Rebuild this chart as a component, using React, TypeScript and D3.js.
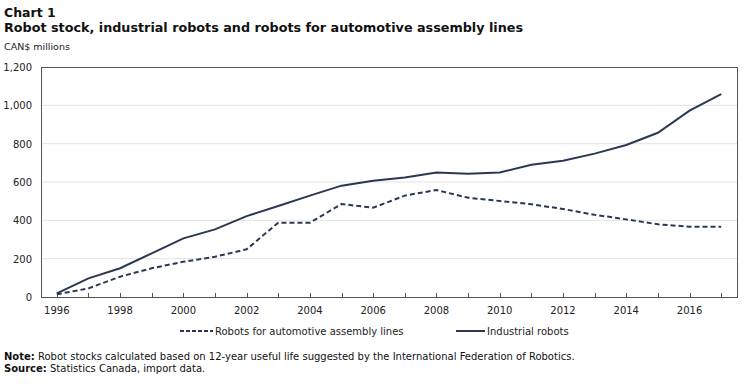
import React, { useEffect, useRef } from 'react';
import * as d3 from 'd3';

const years = d3.range(1996, 2018);
const industrialRobots = [19, 97, 150, 228, 306, 353, 422, 475, 529, 581, 607, 623, 649, 643, 650, 690, 711, 748, 793, 857, 972, 1059];
const automotiveRobots = [14, 45, 106, 150, 184, 210, 249, 388, 388, 485, 466, 529, 558, 518, 501, 484, 459, 429, 405, 379, 367, 367];
const yTicks = [0, 200, 400, 600, 800, 1000, 1200];
const xLabelYears = [1996, 1998, 2000, 2002, 2004, 2006, 2008, 2010, 2012, 2014, 2016];

const W = 750;
const H = 384;
const FONT = 'DejaVu Sans, Verdana, sans-serif';
const LINE = '#2a3854';

const App: React.FC = () => {
  const ref = useRef<SVGSVGElement>(null);

  useEffect(() => {
    if (!ref.current) return;
    const svg = d3.select(ref.current);
    svg.selectAll('*').remove();

    const left = 41, right = 737, top = 67, bottom = 297;
    const x = d3.scaleLinear().domain([1995.5, 2017.5]).range([left, right]);
    const y = d3.scaleLinear().domain([0, 1200]).range([bottom, top]);

    // titles
    svg.append('text').attr('x', 4).attr('y', 17).attr('font-family', FONT)
      .attr('font-size', 12.5).attr('font-weight', 'bold').attr('fill', '#111').text('Chart 1');
    svg.append('text').attr('x', 4).attr('y', 32).attr('font-family', FONT)
      .attr('font-size', 12.5).attr('font-weight', 'bold').attr('fill', '#111')
      .attr('textLength', 519).attr('lengthAdjust', 'spacingAndGlyphs')
      .text('Robot stock, industrial robots and robots for automotive assembly lines');
    svg.append('text').attr('x', 4).attr('y', 50).attr('font-family', FONT)
      .attr('font-size', 9.5).attr('fill', '#222').text('CAN$ millions');

    // gridlines
    svg.append('g').selectAll('line').data(yTicks.filter(t => t > 0 && t < 1200)).enter()
      .append('line')
      .attr('x1', left).attr('x2', right)
      .attr('y1', d => y(d)).attr('y2', d => y(d))
      .attr('stroke', '#e3e3e3').attr('stroke-width', 1);

    // y labels
    svg.append('g').selectAll('text').data(yTicks).enter().append('text')
      .attr('x', 32).attr('y', d => y(d) + 4)
      .attr('text-anchor', 'end').attr('font-family', FONT).attr('font-size', 10)
      .attr('fill', '#222').text(d => d3.format(',')(d));

    // x ticks
    svg.append('g').selectAll('line').data(years).enter().append('line')
      .attr('x1', d => Math.round(x(d)) + 0.5).attr('x2', d => Math.round(x(d)) + 0.5)
      .attr('y1', bottom).attr('y2', bottom - 4)
      .attr('stroke', '#555');
    svg.append('g').selectAll('text').data(xLabelYears).enter().append('text')
      .attr('x', d => x(d)).attr('y', 314)
      .attr('text-anchor', 'middle').attr('font-family', FONT).attr('font-size', 10)
      .attr('fill', '#222').text(d => d);

    // box
    svg.append('rect').attr('x', left + 0.5).attr('y', top + 0.5)
      .attr('width', right - left).attr('height', bottom - top)
      .attr('fill', 'none').attr('stroke', '#555').attr('stroke-width', 1);

    const line = d3.line<number>().x((_, i) => x(years[i])).y(d => y(d));

    svg.append('path').datum(automotiveRobots).attr('d', line)
      .attr('fill', 'none').attr('stroke', LINE).attr('stroke-width', 2)
      .attr('stroke-dasharray', '5,3');
    svg.append('path').datum(industrialRobots).attr('d', line)
      .attr('fill', 'none').attr('stroke', LINE).attr('stroke-width', 2);

    // legend
    const lg = svg.append('g').attr('font-family', FONT).attr('font-size', 10).attr('fill', '#222');
    lg.append('line').attr('x1', 180).attr('x2', 213).attr('y1', 331).attr('y2', 331)
      .attr('stroke', LINE).attr('stroke-width', 2).attr('stroke-dasharray', '4,2');
    lg.append('text').attr('x', 215).attr('y', 334.5).text('Robots for automotive assembly lines');
    lg.append('line').attr('x1', 456).attr('x2', 485).attr('y1', 331).attr('y2', 331)
      .attr('stroke', LINE).attr('stroke-width', 2);
    lg.append('text').attr('x', 487).attr('y', 334.5).text('Industrial robots');

    // notes
    const n1 = svg.append('text').attr('x', 4).attr('y', 360).attr('font-family', FONT)
      .attr('font-size', 10).attr('fill', '#111');
    n1.append('tspan').attr('font-weight', 'bold').text('Note:');
    n1.append('tspan').text(' Robot stocks calculated based on 12-year useful life suggested by the International Federation of Robotics.');
    const n2 = svg.append('text').attr('x', 4).attr('y', 372).attr('font-family', FONT)
      .attr('font-size', 10).attr('fill', '#111');
    n2.append('tspan').attr('font-weight', 'bold').text('Source:');
    n2.append('tspan').text(' Statistics Canada, import data.');
  }, []);

  return (
    <div style={{ position: 'absolute', left: 0, top: 0 }}>
      <svg ref={ref} width={W} height={H} style={{ display: 'block', background: '#fff' }} />
    </div>
  );
};

export default App;
